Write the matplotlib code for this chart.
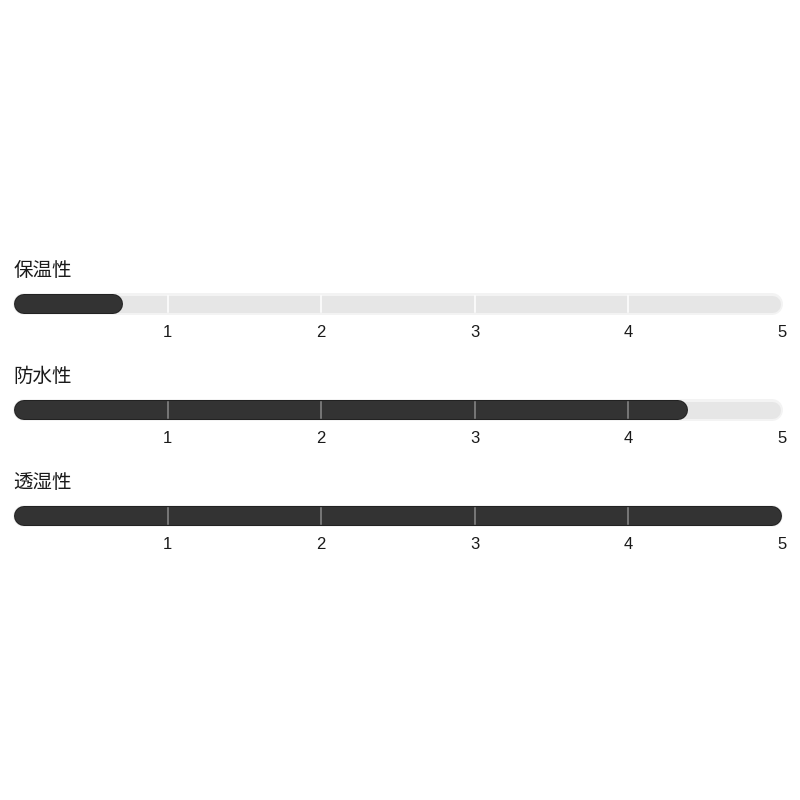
import matplotlib
matplotlib.use('Agg')
import matplotlib.pyplot as plt

plt.rcParams['font.family'] = ['Noto Sans CJK JP', 'DejaVu Sans']

# Ratings (0-5 scale)
labels = ['保温性', '防水性', '透湿性']
values = [0.71, 4.39, 5.0]
ticks = [1, 2, 3, 4, 5]
scale_max = 5

track_color = '#e6e6e6'
track_edge = '#f3f3f3'
bar_color = '#333333'
bar_edge = '#222222'

fig = plt.figure(figsize=(8, 8), dpi=100)
fig.patch.set_facecolor('white')

dpi = fig.dpi
left_px, right_px = 14, 782
bar_h_px = 20
row_centers_px = [304, 410, 516]

ax_w = (right_px - left_px) / 800
px_per_unit = (right_px - left_px) / scale_max
cap = (bar_h_px / 2) / px_per_unit   # round cap radius in data units


def lw_pt(px):
    return px * 72 / dpi


for label, value, cy in zip(labels, values, row_centers_px):
    ax = fig.add_axes([left_px / 800, (800 - cy - bar_h_px / 2) / 800, ax_w, bar_h_px / 800])
    ax.set_xlim(0, scale_max)
    ax.set_ylim(-1, 1)

    # Background track
    ax.plot([cap, scale_max - cap], [0, 0], color=track_edge, lw=lw_pt(bar_h_px + 2),
            solid_capstyle='round', clip_on=False, zorder=1)
    ax.plot([cap, scale_max - cap], [0, 0], color=track_color, lw=lw_pt(bar_h_px - 3),
            solid_capstyle='round', clip_on=False, zorder=2)

    # Value bar
    ax.plot([cap, value - cap], [0, 0], color=bar_edge, lw=lw_pt(bar_h_px),
            solid_capstyle='round', clip_on=False, zorder=3)
    ax.plot([cap, value - cap], [0, 0], color=bar_color, lw=lw_pt(bar_h_px - 2),
            solid_capstyle='round', clip_on=False, zorder=4)

    # Grid marks inside the bar
    for t in ticks[:-1]:
        c = '#8a8a8a' if t < value else 'white'
        ax.axvline(t, ymin=0.08, ymax=0.92, color=c, lw=1.1, zorder=5)

    ax.set_xticks(ticks)
    ax.set_xticklabels([str(t) for t in ticks], family=['Liberation Sans', 'DejaVu Sans'])
    ax.tick_params(axis='x', length=0, pad=8, labelsize=12, labelcolor='#1a1a1a')
    ax.set_yticks([])
    for s in ax.spines.values():
        s.set_visible(False)
    ax.patch.set_alpha(0)

    ax.set_title(label, loc='left', fontsize=14, color='#1a1a1a', pad=13, x=-0.001)

fig.savefig('out.png', dpi=100, facecolor='white')
